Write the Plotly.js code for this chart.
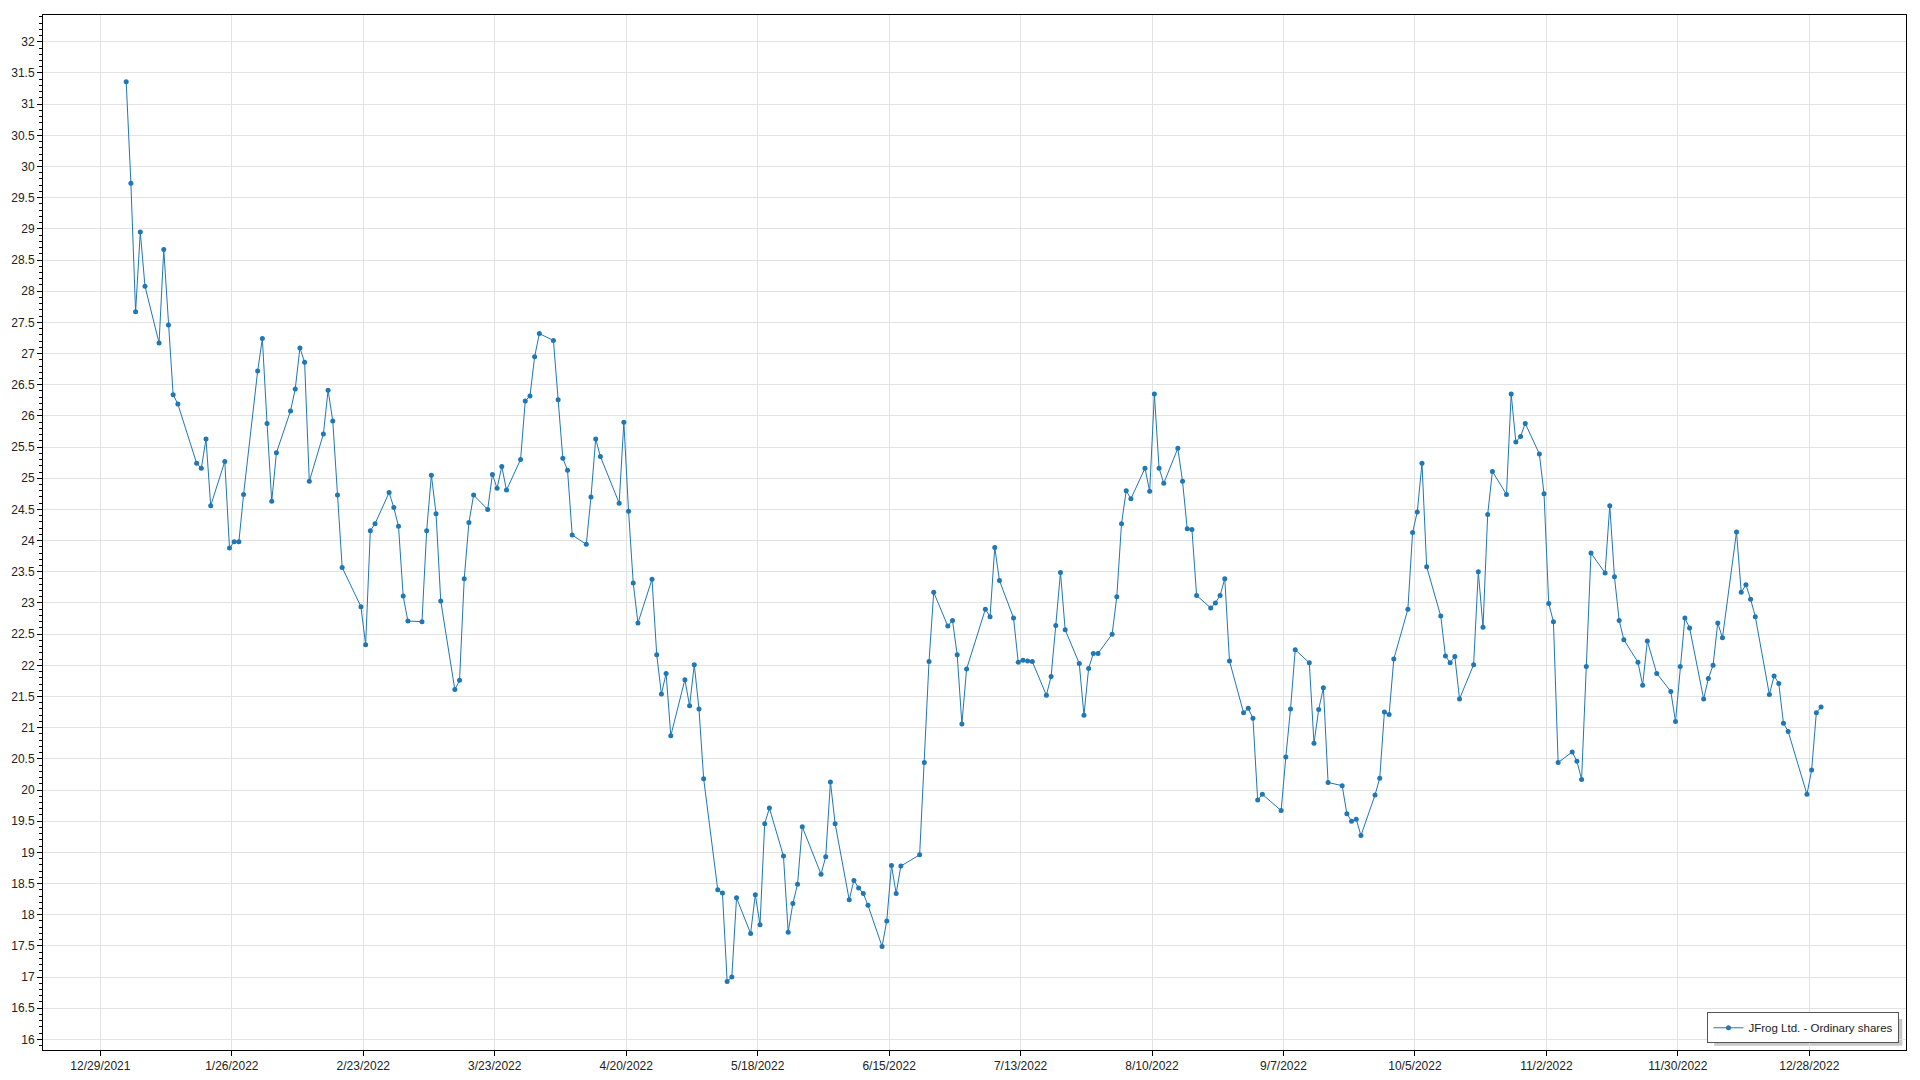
<!DOCTYPE html>
<html>
<head>
<meta charset="utf-8">
<script src="https://cdn.plot.ly/plotly-3.0.1.min.js"></script>
<style>
html,body{margin:0;padding:0;background:#fff;}
#chart{width:1920px;height:1080px;}
</style>
</head>
<body>
<div id="chart"></div>
<script>
const seriesName = "JFrog Ltd. - Ordinary shares";

const dates = [
"2022-01-03","2022-01-04","2022-01-05","2022-01-06","2022-01-07",
"2022-01-10","2022-01-11","2022-01-12","2022-01-13","2022-01-14",
"2022-01-18","2022-01-19","2022-01-20","2022-01-21",
"2022-01-24","2022-01-25","2022-01-26","2022-01-27","2022-01-28",
"2022-01-31","2022-02-01","2022-02-02","2022-02-03","2022-02-04",
"2022-02-07","2022-02-08","2022-02-09","2022-02-10","2022-02-11",
"2022-02-14","2022-02-15","2022-02-16","2022-02-17","2022-02-18",
"2022-02-22","2022-02-23","2022-02-24","2022-02-25",
"2022-02-28","2022-03-01","2022-03-02","2022-03-03","2022-03-04",
"2022-03-07","2022-03-08","2022-03-09","2022-03-10","2022-03-11",
"2022-03-14","2022-03-15","2022-03-16","2022-03-17","2022-03-18",
"2022-03-21","2022-03-22","2022-03-23","2022-03-24","2022-03-25",
"2022-03-28","2022-03-29","2022-03-30","2022-03-31","2022-04-01",
"2022-04-04","2022-04-05","2022-04-06","2022-04-07","2022-04-08",
"2022-04-11","2022-04-12","2022-04-13","2022-04-14",
"2022-04-18","2022-04-19","2022-04-20","2022-04-21","2022-04-22",
"2022-04-25","2022-04-26","2022-04-27","2022-04-28","2022-04-29",
"2022-05-02","2022-05-03","2022-05-04","2022-05-05","2022-05-06",
"2022-05-09","2022-05-10","2022-05-11","2022-05-12","2022-05-13",
"2022-05-16","2022-05-17","2022-05-18","2022-05-19","2022-05-20",
"2022-05-23","2022-05-24","2022-05-25","2022-05-26","2022-05-27",
"2022-05-31","2022-06-01","2022-06-02","2022-06-03",
"2022-06-06","2022-06-07","2022-06-08","2022-06-09","2022-06-10",
"2022-06-13","2022-06-14","2022-06-15","2022-06-16","2022-06-17",
"2022-06-21","2022-06-22","2022-06-23","2022-06-24",
"2022-06-27","2022-06-28","2022-06-29","2022-06-30","2022-07-01",
"2022-07-05","2022-07-06","2022-07-07","2022-07-08",
"2022-07-11","2022-07-12","2022-07-13","2022-07-14","2022-07-15",
"2022-07-18","2022-07-19","2022-07-20","2022-07-21","2022-07-22",
"2022-07-25","2022-07-26","2022-07-27","2022-07-28","2022-07-29",
"2022-08-01","2022-08-02","2022-08-03","2022-08-04","2022-08-05",
"2022-08-08","2022-08-09","2022-08-10","2022-08-11","2022-08-12",
"2022-08-15","2022-08-16","2022-08-17","2022-08-18","2022-08-19",
"2022-08-22","2022-08-23","2022-08-24","2022-08-25","2022-08-26",
"2022-08-29","2022-08-30","2022-08-31","2022-09-01","2022-09-02",
"2022-09-06","2022-09-07","2022-09-08","2022-09-09",
"2022-09-12","2022-09-13","2022-09-14","2022-09-15","2022-09-16",
"2022-09-19","2022-09-20","2022-09-21","2022-09-22","2022-09-23",
"2022-09-26","2022-09-27","2022-09-28","2022-09-29","2022-09-30",
"2022-10-03","2022-10-04","2022-10-05","2022-10-06","2022-10-07",
"2022-10-10","2022-10-11","2022-10-12","2022-10-13","2022-10-14",
"2022-10-17","2022-10-18","2022-10-19","2022-10-20","2022-10-21",
"2022-10-24","2022-10-25","2022-10-26","2022-10-27","2022-10-28",
"2022-10-31","2022-11-01","2022-11-02","2022-11-03","2022-11-04",
"2022-11-07","2022-11-08","2022-11-09","2022-11-10","2022-11-11",
"2022-11-14","2022-11-15","2022-11-16","2022-11-17","2022-11-18",
"2022-11-21","2022-11-22","2022-11-23","2022-11-25",
"2022-11-28","2022-11-29","2022-11-30","2022-12-01","2022-12-02",
"2022-12-05","2022-12-06","2022-12-07","2022-12-08","2022-12-09",
"2022-12-12","2022-12-13","2022-12-14","2022-12-15","2022-12-16",
"2022-12-19","2022-12-20","2022-12-21","2022-12-22","2022-12-23",
"2022-12-27","2022-12-28","2022-12-29","2022-12-30"
];

const prices = [
31.36,29.73,27.67,28.95,28.08,
27.17,28.67,27.46,26.34,26.19,
25.24,25.16,25.63,24.56,
25.27,23.88,23.98,23.98,24.74,
26.72,27.24,25.88,24.63,25.41,
26.08,26.43,27.09,26.86,24.95,
25.71,26.41,25.92,24.73,23.57,
22.94,22.33,24.16,24.27,
24.77,24.53,24.23,23.11,22.71,
22.70,24.16,25.05,24.43,23.03,
21.61,21.76,23.39,24.29,24.73,
24.50,25.06,24.84,25.19,24.81,
25.30,26.24,26.32,26.95,27.32,
27.21,26.26,25.32,25.13,24.09,
23.94,24.70,25.63,25.35,
24.60,25.90,24.47,23.32,22.68,
23.38,22.17,21.54,21.87,20.87,
21.77,21.35,22.01,21.30,20.18,
18.40,18.35,16.93,17.00,18.27,
17.70,18.32,17.84,19.46,19.71,
18.94,17.72,18.18,18.49,19.41,
18.65,18.93,20.13,19.46,
18.24,18.55,18.43,18.34,18.15,
17.49,17.90,18.79,18.34,18.78,
18.96,20.44,22.06,23.17,
22.63,22.72,22.17,21.06,21.94,
22.90,22.78,23.89,23.36,
22.76,22.05,22.08,22.07,22.06,
21.52,21.82,22.64,23.49,22.57,
22.03,21.20,21.95,22.19,22.19,
22.50,23.10,24.27,24.80,24.67,
25.16,24.79,26.35,25.16,24.92,
25.48,24.95,24.19,24.18,23.12,
22.92,23.00,23.12,23.39,22.07,
21.24,21.31,21.15,19.84,19.93,
19.67,20.53,21.30,22.25,
22.04,20.75,21.29,21.64,20.12,
20.07,19.62,19.50,19.53,19.27,
19.92,20.19,21.25,21.21,22.10,
22.90,24.13,24.46,25.24,23.58,
22.79,22.15,22.04,22.14,21.46,
22.01,23.50,22.61,24.42,25.11,
24.74,26.35,25.58,25.67,25.88,
25.39,24.75,22.99,22.70,20.44,
20.61,20.46,20.17,21.98,23.80,
23.48,24.56,23.42,22.72,22.41,
22.05,21.68,22.39,21.87,
21.58,21.10,21.98,22.76,22.60,
21.46,21.79,22.00,22.68,22.44,
24.14,23.17,23.29,23.06,22.78,
21.53,21.83,21.71,21.07,20.94,
19.93,20.32,21.24,21.33
];

const lineColor = "#1f77b4";
const gridColor = "#e3e3e3";
const fontFamily = "Liberation Sans, Arial, sans-serif";

const trace = {
  x: dates, y: prices, type: "scatter", mode: "lines+markers",
  name: seriesName,
  xperiod: 86400000, xperiodalignment: "middle",
  line: {color: lineColor, width: 1},
  marker: {color: lineColor, size: 5},
  showlegend: true
};

const layout = {
  width: 1920, height: 1080,
  paper_bgcolor: "#fff", plot_bgcolor: "#fff",
  font: {family: fontFamily, size: 12, color: "#222"},
  margin: {l: 43, r: 14, t: 15, b: 30, pad: 0},
  showlegend: true,
  legend: {
    x: 0.9965, y: 0.0065, xanchor: "right", yanchor: "bottom",
    bgcolor: "#fff", bordercolor: "#555", borderwidth: 1,
    font: {family: fontFamily, size: 11.5, color: "#222"},
    tracegroupgap: 0, itemwidth: 30
  },
  shapes: [{
    type: "rect", xref: "paper", yref: "paper", layer: "below",
    x0: 0.897, x1: 0.998, y0: 0.004, y1: 0.03,
    fillcolor: "#c8c8c8", line: {width: 0}
  }],
  xaxis: {
    type: "date",
    range: ["2021-12-16 18:40", "2023-01-17 14:20"],
    tick0: "2021-12-29", dtick: 28 * 86400000,
    tickformat: "%-m/%-d/%Y",
    showgrid: true, gridcolor: gridColor, gridwidth: 1,
    showline: true, linecolor: "#000", linewidth: 1, mirror: true,
    ticks: "outside", ticklen: 5, tickcolor: "#000",
    zeroline: false
  },
  yaxis: {
    range: [15.83, 32.43],
    dtick: 0.5, tick0: 0,
    showgrid: true, gridcolor: gridColor, gridwidth: 1,
    showline: true, linecolor: "#000", linewidth: 1, mirror: true,
    ticks: "outside", ticklen: 5, tickcolor: "#000",
    minor: {dtick: 0.1, ticklen: 3, tickcolor: "#000", ticks: "outside", showgrid: false},
    zeroline: false
  }
};

Plotly.newPlot("chart", [trace], layout, {displayModeBar: false, staticPlot: true});
</script>
</body>
</html>
